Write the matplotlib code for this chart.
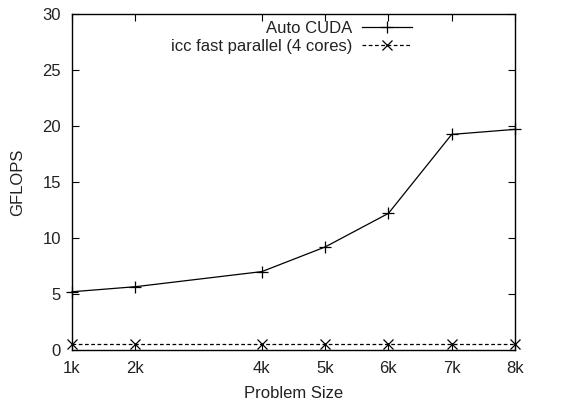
import matplotlib
matplotlib.use('Agg')
import matplotlib.pyplot as plt
import numpy as np

plt.rcParams['font.family'] = ['Liberation Sans', 'DejaVu Sans']

# problem size in thousands
sizes = [1, 2, 4, 5, 6, 7, 8]
size_labels = ['1k', '2k', '4k', '5k', '6k', '7k', '8k']
auto_cuda = [5.2, 5.65, 7.0, 9.2, 12.2, 19.25, 19.7]
icc_parallel = [0.55, 0.55, 0.55, 0.55, 0.55, 0.55, 0.55]
y_ticks = [0, 5, 10, 15, 20, 25, 30]

fs = 12

fig = plt.figure(figsize=(5.62, 4.04), dpi=100)
ax = fig.add_axes([72/562, 1 - 350/404, (515-72)/562, (350-14)/404])

ax.plot(sizes, auto_cuda, color='black', lw=0.9, marker='+', ms=8, mew=0.9,
        label='Auto CUDA', clip_on=False)
ax.plot(sizes, icc_parallel, color='black', lw=0.9, ls=(0, (3, 2)), marker='x', ms=7, mew=0.9,
        label='icc fast parallel (4 cores)', clip_on=False)

ax.set_xlim(1, 8)
ax.set_ylim(0, 30)
ax.set_xticks(sizes)
ax.set_xticklabels(size_labels)
ax.set_yticks(y_ticks)
ax.tick_params(direction='in', top=True, right=True, length=5, width=0.8,
               labelsize=fs, colors='black', labelcolor='#222222')
ax.tick_params(axis='x', pad=8)
ax.tick_params(axis='y', pad=8)
for s in ax.spines.values():
    s.set_linewidth(1.0)

ax.set_xlabel('Problem Size', fontsize=fs, labelpad=7, color='#222222')
ax.set_ylabel('GFLOPS', fontsize=fs, labelpad=12, color='#222222')

leg = ax.legend(loc='upper right', bbox_to_anchor=(412/562, 1 - 21/404),
                bbox_transform=fig.transFigure, frameon=False, markerfirst=False,
                fontsize=fs, handlelength=3.0, handletextpad=0.6, borderpad=0,
                borderaxespad=0, labelspacing=0.15)
for t in leg.get_texts():
    t.set_ha('right')
    t.set_color('#222222')

fig.savefig('out.png', dpi=100)
